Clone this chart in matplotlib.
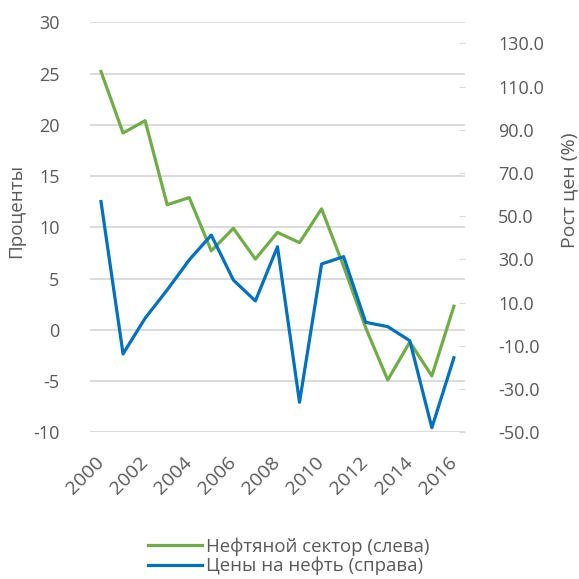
import matplotlib
matplotlib.use("Agg")
import matplotlib.pyplot as plt
import numpy as np

plt.rcParams['font.family'] = ['Open Sans', 'DejaVu Sans']
plt.rcParams['axes.unicode_minus'] = False

# годы и ряды
years = list(range(2000, 2017))
oil_sector = [25.2, 19.2, 20.4, 12.2, 12.9, 7.7, 9.9, 6.9, 9.5, 8.5, 11.8,
              6.2, 0.2, -4.9, -1.2, -4.5, 2.3]
oil_price = [56.8, -13.7, 2.8, 15.9, 29.8, 41.3, 20.5, 10.8, 35.9, -36.1, 27.9,
             31.3, 0.9, -1.1, -7.6, -47.9, -15.5]
left_ticks = [-10, -5, 0, 5, 10, 15, 20, 25, 30]
right_ticks = [-50, -30, -10, 10, 30, 50, 70, 90, 110, 130]

GREEN = '#70AD47'
BLUE = '#0070C0'
TXT = '#595959'
GRID = '#D9D9D9'

fig = plt.figure(figsize=(5.79, 5.79), dpi=100)
ax = fig.add_axes([0.1554, 0.2534, 0.803 - 0.1554, 0.9615 - 0.2534])
ax2 = ax.twinx()

x = np.arange(len(years))
l1, = ax.plot(x, oil_sector, color=GREEN, lw=2.3, label='Нефтяной сектор (слева)',
              solid_joinstyle='round', zorder=3)
l2, = ax2.plot(x, oil_price, color=BLUE, lw=2.3, label='Цены на нефть (справа)',
               solid_joinstyle='round', zorder=3)

ax.set_xlim(-0.5, len(years) - 0.5)
ax.set_ylim(-10, 30)
ax2.set_ylim(-50, 139.8)
ax.set_yticks(left_ticks)
ax2.set_yticks(right_ticks)
ax2.set_yticklabels([f'{v:.1f}' for v in right_ticks])
ax.grid(axis='y', color=GRID, lw=1.3)
ax.set_axisbelow(True)

ax.set_xticks(x[::2])
ax.set_xticklabels([str(y) for y in years[::2]], rotation=45, ha='right',
                   va='center', rotation_mode='anchor')

for a in (ax, ax2):
    for s in a.spines.values():
        s.set_visible(False)
ax.tick_params(axis='y', length=0, pad=22, labelsize=13, labelcolor=TXT)
ax.tick_params(axis='x', length=0, pad=20, labelsize=14, labelcolor=TXT)
ax2.tick_params(axis='y', direction='in', length=4, color=GRID, pad=24,
                labelsize=13, labelcolor=TXT)

fig.text(0.028, 0.635, 'Проценты', rotation=90, ha='center', va='center',
         fontsize=13.5, color=TXT)
fig.text(0.983, 0.672, 'Рост цен (%)', rotation=90, ha='center', va='center',
         fontsize=14, color=TXT)

fig.legend(handles=[l1, l2], loc='upper left', bbox_to_anchor=(0.24, 0.088),
           frameon=False, fontsize=13.4, labelcolor=TXT, handlelength=2.9,
           handletextpad=0.2, labelspacing=0.05, borderpad=0)

fig.savefig('out.png', dpi=100, facecolor='white')
